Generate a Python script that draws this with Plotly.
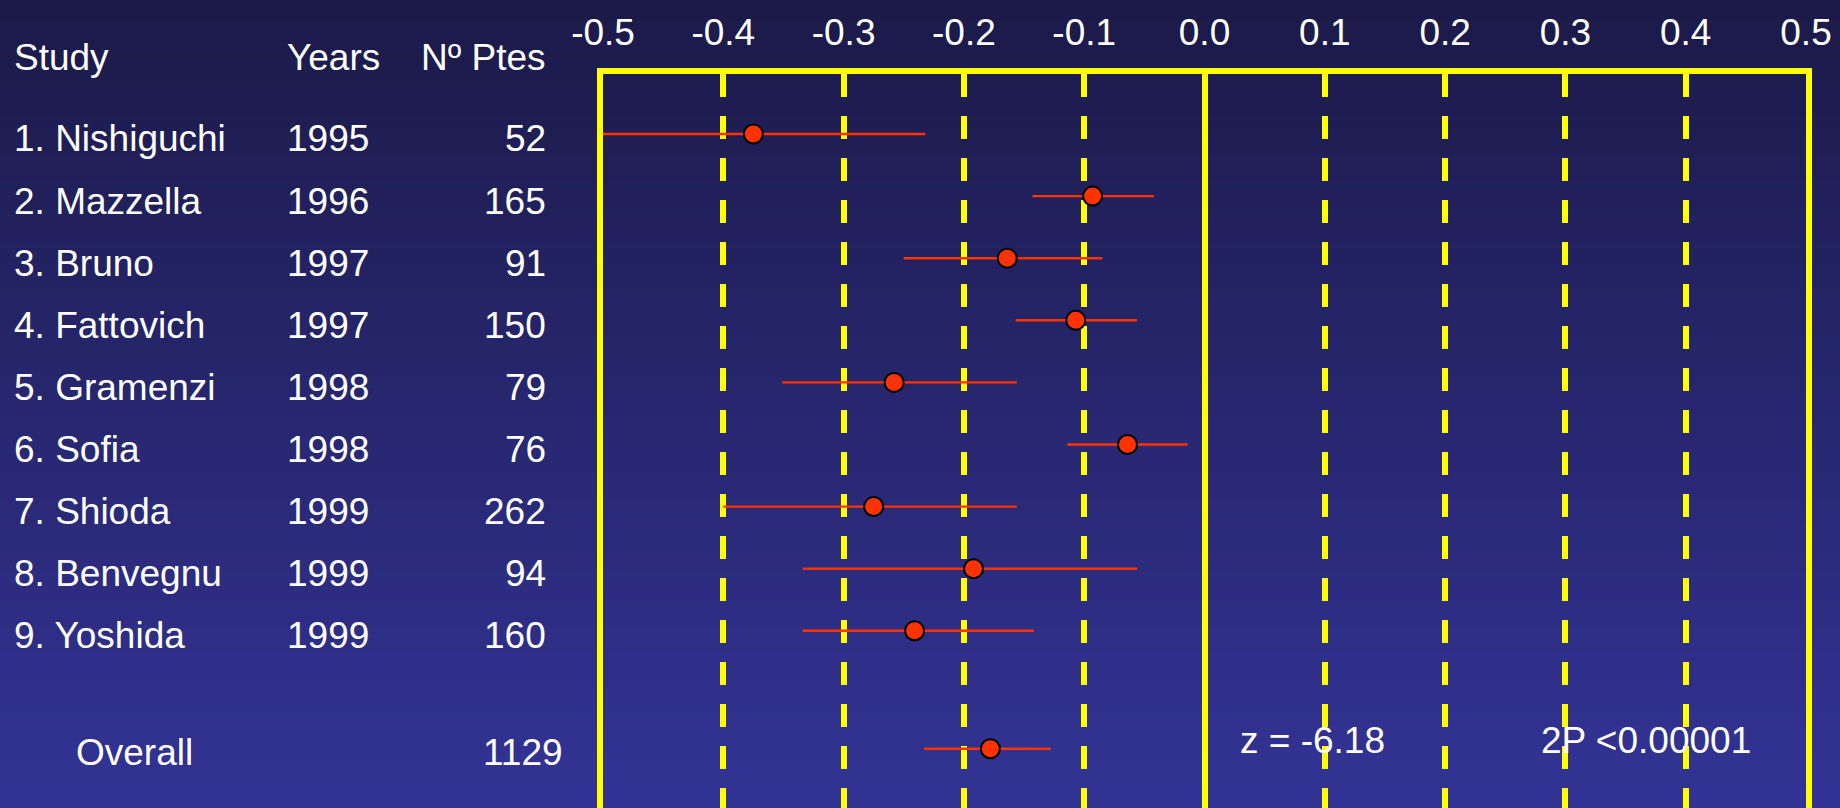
import plotly.graph_objects as go

# Study table
studies = ["1. Nishiguchi", "2. Mazzella", "3. Bruno", "4. Fattovich", "5. Gramenzi",
           "6. Sofia", "7. Shioda", "8. Benvegnu", "9. Yoshida"]
years = [1995, 1996, 1997, 1997, 1998, 1998, 1999, 1999, 1999]
patients = [52, 165, 91, 150, 79, 76, 262, 94, 160]

# Effect estimates with lower / upper limits
effect = [-0.375, -0.093, -0.164, -0.107, -0.258, -0.064, -0.275, -0.192, -0.241]
lower = [-0.500, -0.143, -0.250, -0.157, -0.351, -0.114, -0.400, -0.334, -0.334]
upper = [-0.232, -0.042, -0.085, -0.056, -0.156, -0.014, -0.156, -0.056, -0.142]

overall_label = "Overall"
overall_patients = 1129
overall_effect = -0.178
overall_lower = -0.233
overall_upper = -0.128
z_text = "z = -6.18"
p_text = "2P <0.00001"

tick_values = [-0.5, -0.4, -0.3, -0.2, -0.1, 0.0, 0.1, 0.2, 0.3, 0.4, 0.5]
tick_labels = ["-0.5", "-0.4", "-0.3", "-0.2", "-0.1", "0.0", "0.1", "0.2", "0.3", "0.4", "0.5"]

# ---- styling ----
W, H = 1840, 808
FONT = "Arial, 'Liberation Sans', sans-serif"
FS = 37
YELLOW = "#FFFF00"
RED = "#FF3300"
WHITE = "#FFFFFF"
TOP_RGB = (27, 26, 72)
BOTTOM_RGB = (51, 51, 150)

rows = list(range(1, len(studies) + 1))
overall_row = rows[-1] + 1.9

fig = go.Figure()

# confidence intervals + point estimates
all_y = rows + [overall_row]
all_x = effect + [overall_effect]
all_lo = lower + [overall_lower]
all_hi = upper + [overall_upper]
fig.add_trace(go.Scatter(
    x=all_x, y=all_y, mode="markers",
    marker=dict(size=19, color=RED, line=dict(color="black", width=2)),
    error_x=dict(type="data", symmetric=False,
                 array=[h - e for h, e in zip(all_hi, all_x)],
                 arrayminus=[e - l for e, l in zip(all_x, all_lo)],
                 color=RED, thickness=2.4, width=0),
    cliponaxis=True, hoverinfo="skip", showlegend=False,
))

# vertical gradient background
bands = 120
shapes = []
for i in range(bands):
    t = i / (bands - 1)
    r, g, b = [round(a + (c - a) * t) for a, c in zip(TOP_RGB, BOTTOM_RGB)]
    shapes.append(dict(type="rect", xref="paper", yref="paper",
                       x0=0, x1=1, y0=1 - (i + 1) / bands, y1=1 - i / bands + 0.001,
                       fillcolor=f"rgb({r},{g},{b})", line=dict(width=0), layer="below"))

annotations = []

def txt(text, x, y, xanchor, yref="y", yshift=0):
    annotations.append(dict(text=text, x=x, y=y, xref="paper", yref=yref,
                            xanchor=xanchor, yanchor="middle", showarrow=False,
                            yshift=yshift, font=dict(family=FONT, size=FS, color=WHITE)))

col_study = 12 / W
col_year = 285 / W
col_n = 548 / W

head_y = 1 - 57.5 / H
txt("Study", col_study, head_y, "left", yref="paper")
txt("Years", col_year, head_y, "left", yref="paper")
txt("Nº Ptes", col_n, head_y, "right", yref="paper")

for s, yr, n, r in zip(studies, years, patients, rows):
    txt(s, col_study, r, "left", yshift=-5)
    txt(str(yr), col_year, r, "left", yshift=-5)
    txt(str(n), col_n, r, "right", yshift=-5)

txt(overall_label, 74 / W, overall_row, "left", yshift=-4)
txt(str(overall_patients), 565 / W, overall_row, "right", yshift=-4)
txt(z_text, 1238 / W, overall_row, "left", yshift=8)
txt(p_text, 1539 / W, overall_row, "left", yshift=8)

plot_top_px = 74.0
row_px = 62.1
y_top = 1 - (134 - plot_top_px) / row_px
y_bottom = y_top + (H - plot_top_px) / row_px

fig.update_layout(
    width=W, height=H,
    margin=dict(l=0, r=0, t=0, b=0, autoexpand=False),
    paper_bgcolor="rgb(38,38,110)",
    plot_bgcolor="rgba(0,0,0,0)",
    shapes=shapes,
    annotations=annotations,
    xaxis=dict(
        domain=[603 / W, 1806 / W], range=[-0.5, 0.5], side="top",
        tickvals=tick_values, ticktext=tick_labels, ticks="",
        ticklabelstandoff=8,
        tickfont=dict(family=FONT, size=FS, color=WHITE),
        showgrid=True, gridcolor=YELLOW, gridwidth=5.5, griddash="23px,19px",
        zeroline=True, zerolinecolor=YELLOW, zerolinewidth=5.5,
        showline=True, linecolor=YELLOW, linewidth=5.5, mirror=False,
        fixedrange=True,
    ),
    yaxis=dict(
        domain=[0, 1 - plot_top_px / H], range=[y_bottom, y_top],
        showticklabels=False, ticks="", showgrid=False, zeroline=False,
        showline=True, linecolor=YELLOW, linewidth=5.5, mirror=True,
        fixedrange=True,
    ),
)

fig.write_html("out.html")
